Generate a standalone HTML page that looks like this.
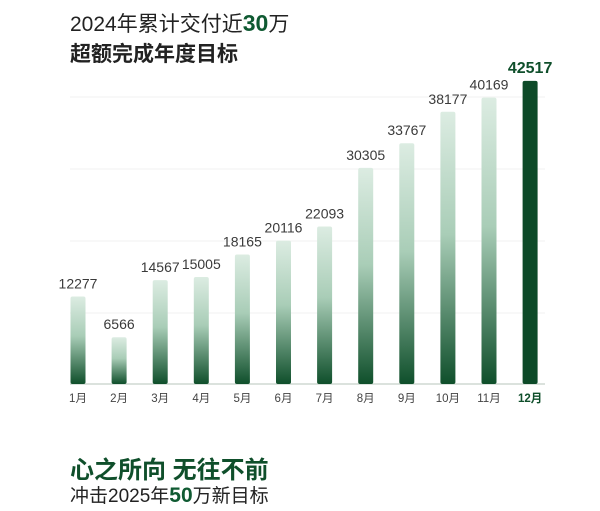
<!DOCTYPE html>
<html><head><meta charset="utf-8"><style>
body{margin:0;width:600px;height:511px;background:#fff;overflow:hidden;font-family:"Liberation Sans","Noto Sans CJK SC",sans-serif;}
.t{position:absolute;white-space:nowrap;color:#222;}
svg text{font-family:"Liberation Sans","Noto Sans CJK SC",sans-serif;}
</style></head><body>
<svg width="600" height="511" style="position:absolute;left:0;top:0">
<defs>
<linearGradient id="g" x1="0" y1="0" x2="0" y2="1">
<stop offset="0" stop-color="#dcece2"/><stop offset="0.45" stop-color="#a9cdb7"/><stop offset="1" stop-color="#0f4f2b"/>
</linearGradient>
</defs>
<g stroke="#f0f2f0" stroke-width="1">
<line x1="70" x2="545" y1="97" y2="97"/><line x1="70" x2="545" y1="169" y2="169"/>
<line x1="70" x2="545" y1="241" y2="241"/><line x1="70" x2="545" y1="313" y2="313"/>
</g>
<line x1="70" x2="545" y1="384" y2="384" stroke="#cfd8d2" stroke-width="1.5"/>
<g fill="url(#g)">
<rect x="70.5" y="296.5" width="15" height="87.5" rx="2"/>
<rect x="111.6" y="337.2" width="15" height="46.8" rx="2"/>
<rect x="152.7" y="280.1" width="15" height="103.9" rx="2"/>
<rect x="193.8" y="277" width="15" height="107" rx="2"/>
<rect x="234.9" y="254.5" width="15" height="129.5" rx="2"/>
<rect x="276" y="240.6" width="15" height="143.4" rx="2"/>
<rect x="317.1" y="226.5" width="15" height="157.5" rx="2"/>
<rect x="358.2" y="167.9" width="15" height="216.1" rx="2"/>
<rect x="399.3" y="143.2" width="15" height="240.8" rx="2"/>
<rect x="440.4" y="111.8" width="15" height="272.2" rx="2"/>
<rect x="481.5" y="97.6" width="15" height="286.4" rx="2"/>
</g>
<rect x="522.6" y="80.9" width="15" height="303.1" rx="2" fill="#0d4a28"/>
<g font-size="14" fill="#3a3a3a" text-anchor="middle">
<text x="78" y="288.5">12277</text>
<text x="119.1" y="329.2">6566</text>
<text x="160.2" y="272.1">14567</text>
<text x="201.3" y="269">15005</text>
<text x="242.4" y="246.5">18165</text>
<text x="283.5" y="232.6">20116</text>
<text x="324.6" y="218.5">22093</text>
<text x="365.7" y="159.9">30305</text>
<text x="406.8" y="135.2">33767</text>
<text x="447.9" y="103.8">38177</text>
<text x="489" y="89.6">40169</text>
<text x="530.1" y="72.9" font-size="16" font-weight="bold" fill="#0f4f2b">42517</text>
</g>
<g font-size="11.5" fill="#444" text-anchor="middle">
<text x="78" y="402">1月</text><text x="119.1" y="402">2月</text><text x="160.2" y="402">3月</text>
<text x="201.3" y="402">4月</text><text x="242.4" y="402">5月</text><text x="283.5" y="402">6月</text>
<text x="324.6" y="402">7月</text><text x="365.7" y="402">8月</text><text x="406.8" y="402">9月</text>
<text x="447.9" y="402">10月</text><text x="489" y="402">11月</text>
<text x="530.1" y="402" fill="#0f4f2b" font-weight="bold">12月</text>
</g>
</svg>
<div class="t" style="left:70px;top:8px;font-size:21px;">2024年累计交付近<b style="color:#0f5a32;font-size:23px">30</b>万</div>
<div class="t" style="left:70px;top:38px;font-size:21px;font-weight:bold;">超额完成年度目标</div>
<div class="t" style="left:70px;top:450px;font-size:24px;font-weight:bold;color:#0f4f2b;">心之所向 无往不前</div>
<div class="t" style="left:70px;top:481px;font-size:19px;">冲击2025年<b style="color:#0f5a32;font-size:21px">50</b>万新目标</div>
</body></html>
